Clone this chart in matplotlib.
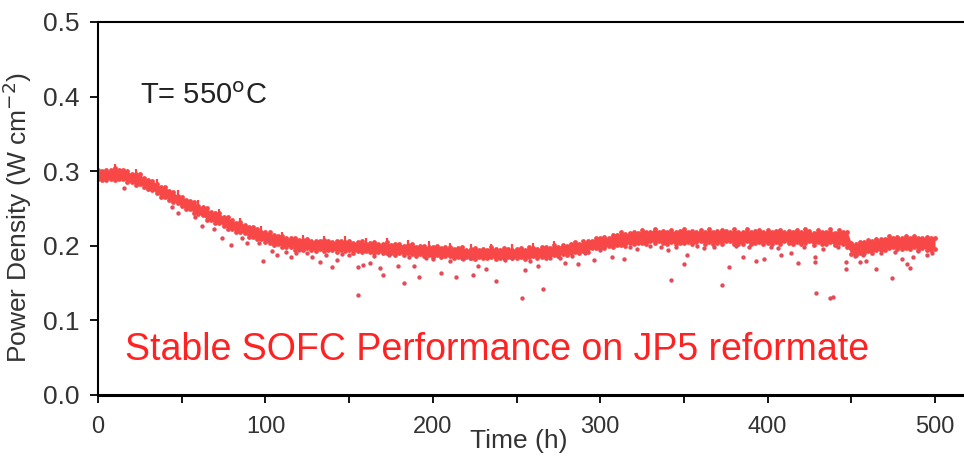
import numpy as np
import matplotlib.pyplot as plt

plt.rcParams['font.family'] = ['Liberation Sans', 'DejaVu Sans']

# long-term test at 550 C, dense band read every 2.5 h (upper / lower edge, mW cm-2)
t_band = np.arange(0, 502.5, 2.5)
band_hi = [301, 300, 301, 301, 304, 301, 301, 300, 296, 296, 296, 291, 288, 287, 283, 279, 279, 274, 272, 267,
           266, 262, 260, 259, 253, 252, 250, 245, 244, 244, 238, 238, 234, 231, 232, 228, 225, 225, 222, 219,
           218, 218, 214, 213, 213, 210, 210, 211, 208, 208, 209, 206, 207, 206, 208, 206, 205, 207, 206, 205,
           206, 204, 205, 207, 203, 204, 205, 202, 203, 205, 201, 202, 203, 200, 201, 203, 199, 200, 200, 198,
           199, 200, 197, 198, 198, 196, 197, 198, 195, 196, 197, 195, 196, 195, 198, 196, 195, 197, 196, 195,
           196, 197, 195, 199, 197, 196, 198, 198, 197, 201, 199, 201, 200, 202, 205, 203, 206, 206, 207, 211,
           210, 212, 211, 215, 214, 218, 216, 217, 219, 217, 221, 219, 219, 223, 219, 220, 219, 221, 218, 220,
           223, 219, 220, 219, 221, 218, 222, 219, 220, 221, 220, 218, 222, 219, 219, 222, 218, 220, 221, 219,
           221, 219, 220, 221, 219, 220, 219, 221, 218, 222, 220, 217, 221, 219, 219, 222, 217, 221, 218, 219,
           204, 202, 205, 205, 208, 206, 209, 209, 209, 213, 211, 212, 211, 213, 211, 213, 210, 211, 212, 210, 210]
band_lo = [290, 288, 288, 290, 288, 290, 290, 286, 285, 282, 283, 279, 276, 275, 271, 266, 266, 261, 259, 257,
           253, 249, 249, 244, 242, 241, 235, 234, 231, 231, 227, 223, 223, 219, 218, 217, 212, 212, 209, 209,
           205, 204, 201, 202, 199, 199, 199, 195, 197, 195, 197, 195, 193, 196, 193, 194, 195, 192, 194, 193,
           194, 191, 193, 192, 193, 192, 190, 192, 190, 191, 191, 188, 190, 188, 190, 189, 186, 189, 186, 187,
           185, 187, 185, 186, 186, 183, 185, 183, 185, 184, 182, 185, 183, 184, 185, 182, 184, 183, 185, 184,
           183, 185, 182, 185, 186, 184, 185, 184, 187, 187, 186, 189, 187, 190, 192, 191, 193, 192, 197, 197,
           197, 197, 200, 198, 201, 201, 200, 204, 202, 204, 204, 202, 206, 204, 206, 204, 203, 205, 202, 204,
           204, 205, 202, 205, 206, 202, 205, 203, 204, 203, 206, 206, 202, 203, 203, 206, 202, 204, 205, 203,
           204, 203, 205, 202, 206, 204, 203, 205, 202, 204, 206, 201, 205, 203, 203, 205, 201, 204, 202, 199,
           189, 187, 190, 190, 193, 191, 194, 194, 194, 197, 198, 196, 196, 197, 196, 199, 195, 197, 195, 195, 196]

# short periodic upward spikes (base / tip)
spike_t = [10, 22.5, 35, 47.5, 60, 72.5, 85, 97.5, 110, 122.5, 135, 147.5, 160, 172.5, 185, 197.5,
           210, 222.5, 235, 247.5, 260, 272.5]
spike_lo = [300, 294, 282, 267, 253, 241, 229, 219, 211, 207, 205, 205, 203, 202, 200, 198,
            196, 195, 195, 195, 196, 198]
spike_hi = [309, 303, 290, 275, 261, 249, 237, 227, 219, 215, 213, 213, 211, 210, 208, 206,
            204, 203, 203, 203, 204, 206]

# scattered points below the band
out_t = [15.5, 44, 48, 58, 62, 69, 74, 79.5, 86, 89, 96, 98.6, 101.6, 107, 115, 125, 128, 132.6, 140, 143,
         155, 155, 158, 162.5, 168.5, 170, 179, 183, 189, 192, 205, 214, 224, 227, 232, 238, 253, 255, 263,
         266, 279, 287, 296, 307, 314, 340.5, 342, 350, 352, 373, 377, 385, 393, 398, 408, 414, 418, 428,
         428, 429, 437, 439, 447, 447, 455, 459, 465, 474, 480, 483, 485, 487, 495,
         104, 112, 118, 120, 136, 146, 150, 165, 174, 186, 196, 200, 210, 218, 222, 243, 247, 258, 270,
         276, 283, 291, 300, 318, 322, 330, 336, 345, 358, 362, 368, 381, 389, 402, 406, 422, 433, 442,
         452, 457, 468, 476, 490, 498]
out_v = [277, 252, 244, 239, 227, 222, 210, 201, 210, 204, 204, 180, 208, 188, 185, 190, 185, 178, 171, 181,
         171, 134, 174, 177, 170, 161, 173, 150, 173, 158, 163, 158, 161, 173, 169, 153, 130, 168, 173,
         142, 177, 176, 181, 185, 182, 194, 154, 176, 188, 147, 171, 185, 180, 182, 188, 190, 177, 185,
         178, 137, 130, 131, 178, 169, 178, 180, 169, 157, 182, 176, 170, 185, 187,
         193, 192, 190, 195, 188, 189, 187, 186, 188, 185, 184, 182, 180, 182, 184, 181, 183, 180, 183,
         184, 186, 190, 194, 198, 196, 200, 199, 199, 200, 197, 199, 200, 198, 199, 197, 199, 196, 198,
         186, 187, 190, 192, 193, 191]

y_ticks = [0.0, 0.1, 0.2, 0.3, 0.4, 0.5]

red = '#f74747'

fig = plt.figure(figsize=(9.64, 4.61), dpi=100)
ax = fig.add_axes([0.1017, 0.1432, 0.8983, 0.8091])

hi = np.array(band_hi) / 1000
lo = np.array(band_lo) / 1000
ax.fill_between(t_band, lo, hi, color=red, lw=0)
ax.scatter(t_band, hi, s=12, color=red, lw=0)
ax.scatter(t_band, lo, s=12, color=red, lw=0)
ax.vlines(spike_t, np.array(spike_lo) / 1000, np.array(spike_hi) / 1000, color=red, lw=1.6)
ax.scatter(out_t, np.array(out_v) / 1000, s=10, color='#e24c58', lw=0)

ax.set_xlim(0, 517.3)
ax.set_ylim(0, 0.5)
ax.spines['right'].set_visible(False)
for s in ['left', 'top']:
    ax.spines[s].set_linewidth(1.5)
ax.spines['bottom'].set_linewidth(2.2)

ax.set_xticks(range(0, 501, 100))
ax.set_xticks(range(50, 500, 100), minor=True)
ax.set_yticks(y_ticks)
ax.set_yticklabels(['%.1f' % v for v in y_ticks])
ax.tick_params(direction='out', length=6, width=1.3, labelcolor='#333333')
ax.tick_params(axis='x', which='major', labelsize=17, pad=9)
ax.tick_params(axis='y', labelsize=19, pad=7)
ax.tick_params(axis='x', which='minor', direction='out', length=6, width=1.3)

ax.set_xlabel('Time (h)', fontsize=19, color='#333333')
ax.xaxis.set_label_coords(0.486, -0.09)
ax.set_ylabel('Power Density (W cm$^{-2}$)', fontsize=19, color='#333333')
ax.yaxis.set_label_coords(-0.074, 0.477)

ax.text(25, 0.39, 'T= 550$^{\\mathrm{o}}$C', fontsize=21, color='#222222', va='baseline')
ax.text(16, 0.047, 'Stable SOFC Performance on JP5 reformate', fontsize=27, color='#ff2222',
        va='baseline')

fig.savefig('out.png', dpi=100)
